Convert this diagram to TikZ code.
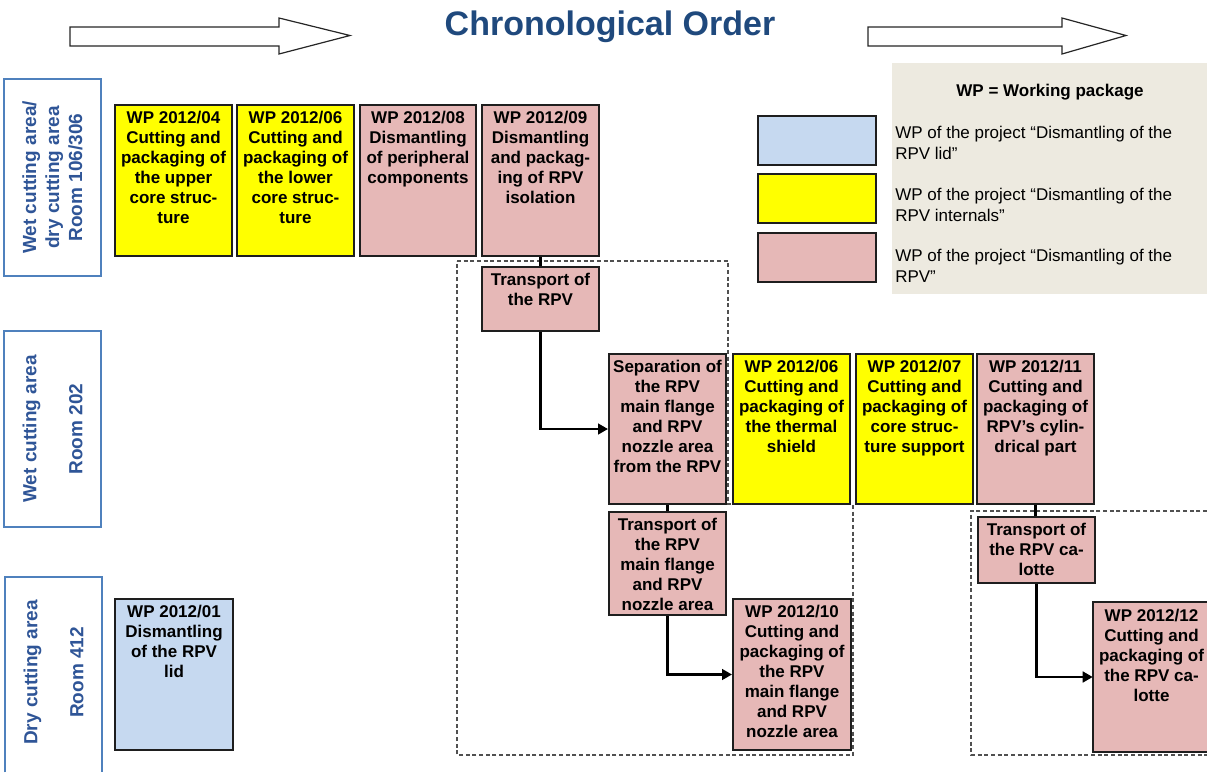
\documentclass[tikz,border=0pt]{standalone}
\usepackage{fontspec}
\setmainfont{Liberation Sans}
\usetikzlibrary{fit,calc,arrows.meta}
\definecolor{wpyellow}{RGB}{255,255,0}
\definecolor{wppink}{RGB}{230,184,183}
\definecolor{wpblue}{RGB}{198,217,240}
\definecolor{legbg}{RGB}{237,234,224}
\definecolor{titleblue}{RGB}{31,73,125}
\definecolor{lblblue}{RGB}{47,85,151}
\definecolor{lblborder}{RGB}{79,129,189}
\definecolor{wpborder}{RGB}{30,30,30}
\definecolor{dashgray}{RGB}{80,80,80}
\tikzset{
  wp/.style={draw=wpborder, line width=1.5pt, inner sep=0pt},
  wpfill/.style={inner sep=0pt},
  wptxt/.style={font=\bfseries\fontsize{12.75}{15}\selectfont, align=center, inner sep=0pt, anchor=north},
  lbl/.style={draw=lblborder, line width=1.3pt, inner sep=0pt},
  lbltxt/.style={font=\bfseries\fontsize{14.25}{17.25}\selectfont, text=lblblue, align=center, rotate=90, inner sep=0pt},
  legtxt/.style={font=\fontsize{12.75}{15.75}\selectfont, align=left, inner sep=0pt, anchor=north west},
  conn/.style={draw=black, line width=1.8pt},
  arr/.style={conn, -{Triangle[length=7.5pt,width=8pt]}},
  dashbox/.style={draw=dashgray, line width=1pt, dash pattern=on 3pt off 2pt},
  blockarrow/.style={draw=black!85, line width=0.9pt, fill=white, line join=miter},
}
\begin{document}
\begin{tikzpicture}[x=0.75pt,y=-0.75pt]
\useasboundingbox (0,0) rectangle (1207,772);

% chronological arrows and title
\draw[blockarrow] (70,27) -- (279,27) -- (279,18) -- (350,35.5) -- (279,54) -- (279,46) -- (70,46) -- cycle;
\draw[blockarrow] (868,27) -- (1062,27) -- (1062,18) -- (1126,35.5) -- (1062,54) -- (1062,46) -- (868,46) -- cycle;
\node[font=\bfseries\fontsize{25.5}{30}\selectfont, text=titleblue, anchor=base, inner sep=0pt] (title) at (610,35) {Chronological Order};

% legend
\node[fill=legbg, inner sep=0pt, fit={(892,63) (1207,294)}] (legend) {};
\node[font=\bfseries\fontsize{12.75}{15}\selectfont, anchor=base, inner sep=0pt] (legtitle) at (1050,96) {WP = Working package};
\node[wp, fill=wpblue, fit={(758,116) (876,165)}] (leg1) {};
\node[wp, fill=wpyellow, fit={(758,174) (876,223)}] (leg2) {};
\node[wp, fill=wppink, fit={(758,233) (876,282)}] (leg3) {};
\node[legtxt] (lt1) at (895,126) {WP of the project “Dismantling of the\\RPV lid”};
\node[legtxt] (lt2) at (895,188) {WP of the project “Dismantling of the\\RPV internals”};
\node[legtxt] (lt3) at (895,249) {WP of the project “Dismantling of the\\RPV”};

% room labels
\node[lbl, fit={(4,79) (101,276)}] (b1) {};
\node[lbltxt] (b1t) at (b1.center) {Wet cutting area/\\dry cutting area\\Room 106/306};
\node[lbl, fit={(4,331) (101,527)}] (b2) {};
\node[lbltxt] (b2t) at (b2.center) {Wet cutting area\\[17.25pt]Room 202};
\node[inner sep=0pt, fit={(5,577) (102,772)}] (b3) {};
\draw[draw=lblborder, line width=1.3pt] (b3.south west) -- (b3.north west) -- (b3.north east) -- (b3.south east);
\node[lbltxt] (b3t) at ($(b3.center)+(0,-2)$) {Dry cutting area\\[17.25pt]Room 412};

% dashed regions
\draw[dashbox] (457,261) -- (728,261) -- (728,504) -- (853,504) -- (853,755) -- (457,755) -- cycle;
\draw[dashbox] (1207,511) -- (971,511) -- (971,755) -- (1207,755);

% row 1
\node[wp, fill=wpyellow, fit={(115,105) (232,256)}] (w04) {};
\node[wptxt] (w04t) at ($(w04.north)+(0,7)$) {WP 2012/04\\Cutting and\\packaging of\\the upper\\core struc-\\ture};
\node[wp, fill=wpyellow, fit={(237,105) (354,256)}] (w06a) {};
\node[wptxt] (w06at) at ($(w06a.north)+(0,7)$) {WP 2012/06\\Cutting and\\packaging of\\the lower\\core struc-\\ture};
\node[wp, fill=wppink, fit={(360,105) (476,256)}] (w08) {};
\node[wptxt] (w08t) at ($(w08.north)+(0,7)$) {WP 2012/08\\Dismantling\\of peripheral\\components};
\node[wp, fill=wppink, fit={(482,105) (599,256)}] (w09) {};
\node[wptxt] (w09t) at ($(w09.north)+(0,7)$) {WP 2012/09\\Dismantling\\and packag-\\ing of RPV\\isolation};

\node[wp, fill=wppink, fit={(482,267) (599,331)}] (trpv) {};
\node[wptxt] (trpvt) at ($(trpv.north)+(0,7)$) {Transport of\\the RPV};

% row 2
\node[wp, fill=wppink, fit={(609,354) (726,504)}] (sep) {};
\node[wptxt] (sept) at ($(sep.north)+(0,7)$) {Separation of\\the RPV\\main flange\\and RPV\\nozzle area\\from the RPV};
\node[wp, fill=wpyellow, fit={(733,354) (850,504)}] (w06b) {};
\node[wptxt] (w06bt) at ($(w06b.north)+(0,7)$) {WP 2012/06\\Cutting and\\packaging of\\the thermal\\shield};
\node[wp, fill=wpyellow, fit={(856,354) (973,504)}] (w07) {};
\node[wptxt] (w07t) at ($(w07.north)+(0,7)$) {WP 2012/07\\Cutting and\\packaging of\\core struc-\\ture support};
\node[wp, fill=wppink, fit={(977,354) (1094,504)}] (w11) {};
\node[wptxt] (w11t) at ($(w11.north)+(0,7)$) {WP 2012/11\\Cutting and\\packaging of\\RPV’s cylin-\\drical part};

\node[wp, fill=wppink, fit={(609,512) (726,615)}] (tflange) {};
\node[wptxt] (tflanget) at ($(tflange.north)+(0,7)$) {Transport of\\the RPV\\main flange\\and RPV\\nozzle area};
\node[wp, fill=wppink, fit={(978,517) (1095,583)}] (tcal) {};
\node[wptxt] (tcalt) at ($(tcal.north)+(0,7)$) {Transport of\\the RPV ca-\\lotte};

% row 3
\node[wp, fill=wpblue, fit={(115,599) (233,750)}] (w01) {};
\node[wptxt] (w01t) at ($(w01.north)+(0,7)$) {WP 2012/01\\Dismantling\\of the RPV\\lid};
\node[wp, fill=wppink, fit={(733,599) (851,750)}] (w10) {};
\node[wptxt] (w10t) at ($(w10.north)+(0,7)$) {WP 2012/10\\Cutting and\\packaging of\\the RPV\\main flange\\and RPV\\nozzle area};
\node[wpfill, fill=wppink, fit={(1093,602) (1207,752)}] (w12) {};
\draw[draw=wpborder, line width=1.5pt] (w12.north east) -- (w12.north west) -- (w12.south west) -- (w12.south east);
\node[wptxt] (w12t) at ($(w12.north)+(1.5,7)$) {WP 2012/12\\Cutting and\\packaging of\\the RPV ca-\\lotte};

% connectors
\draw[conn] (w09.south) -- (trpv.north);
\draw[arr] (trpv.south) |- (sep.west);
\draw[conn] (sep.south) -- (tflange.north);
\draw[arr] (tflange.south) |- (w10.west);
\draw[conn] (w11.south) -- (w11.south |- tcal.north);
\draw[arr] (tcal.south) |- (w12.west);
\end{tikzpicture}
\end{document}
